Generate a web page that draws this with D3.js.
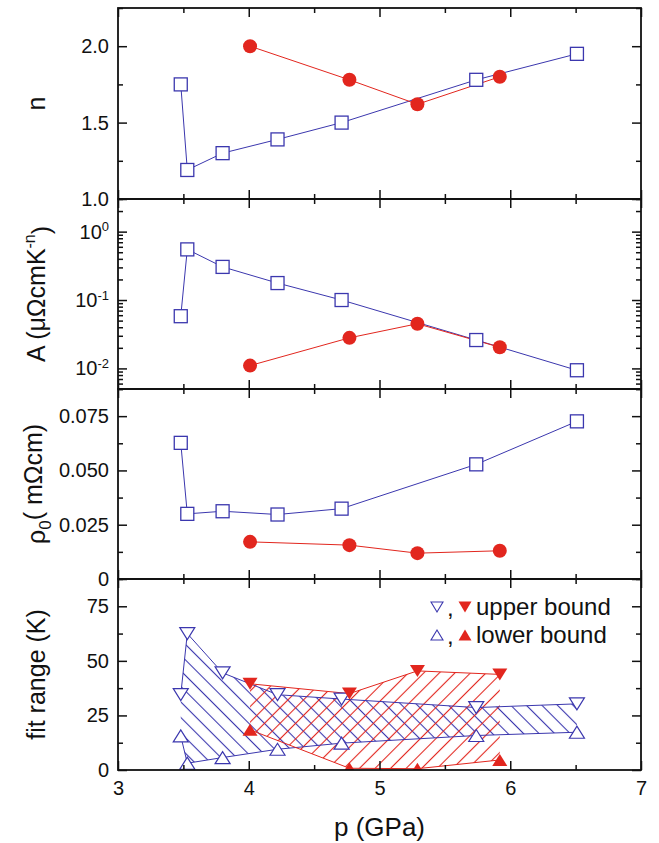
<!DOCTYPE html>
<html><head><meta charset="utf-8">
<script src="https://cdn.jsdelivr.net/npm/d3@7"></script>
<style>
body{margin:0;background:#fff}
svg{display:block}
text{font-family:"Liberation Sans",Arial,Helvetica,sans-serif;fill:#111}
</style>
</head><body>
<svg id="c" width="659" height="843"></svg>
<script>
// ---- data ----
const pBlue = [3.48, 3.53, 3.80, 4.22, 4.71, 5.74, 6.51];
const pRed  = [4.01, 4.77, 5.29, 5.92];
const nBlue = [1.75, 1.19, 1.30, 1.39, 1.50, 1.78, 1.95];
const nRed  = [2.00, 1.78, 1.62, 1.80];
const aBlue = [0.058, 0.55, 0.305, 0.177, 0.100, 0.026, 0.0094];
const aRed  = [0.011, 0.028, 0.045, 0.0204];
const rhoBlue = [0.0627, 0.0300, 0.0312, 0.0297, 0.0324, 0.0528, 0.0726];
const rhoRed  = [0.0171, 0.0156, 0.0119, 0.0130];
const upperBlue = [34.5, 62.5, 44.5, 34.5, 32.5, 28.6, 30.3];
const lowerBlue = [15.6, 3.1, 5.7, 9.5, 12.3, 15.8, 17.3];
const upperRed  = [39.5, 35.0, 45.4, 43.8];
const lowerRed  = [18.4, 0.8, 0.6, 4.6];

const xTicks = [3, 4, 5, 6, 7];
const xMinor = [3.5, 4.5, 5.5, 6.5];
const nTicks = [1.0, 1.5, 2.0];
const nMinor = [1.25, 1.75, 2.25];
const aTicks = [1, 0.1, 0.01];
const aMinor = [0.005,0.006,0.007,0.008,0.009,0.02,0.03,0.04,0.05,0.06,0.07,0.08,0.09,0.2,0.3,0.4,0.5,0.6,0.7,0.8,0.9,2,3];
const rhoTicks = [0, 0.025, 0.05, 0.075];
const rhoMinor = [0.0125, 0.0375, 0.0625, 0.0875];
const fitTicks = [0, 25, 50, 75];
const fitMinor = [12.5, 37.5, 62.5, 87.5];
const legendLabels = ["upper bound", "lower bound"];

// ---- layout ----
const svg = d3.select("#c");
const L = 118, R = 641;
const BLUE = "#3b37ae", RED = "#e2261e";
const MAJ = 9, MIN = 5;
const x = d3.scaleLinear().domain([3, 7]).range([L, R]);

const defs = svg.append("defs");
function hatch(id, angle, color) {
  const pt = defs.append("pattern").attr("id", id).attr("patternUnits", "userSpaceOnUse")
    .attr("width", 11).attr("height", 11).attr("patternTransform", `rotate(${angle})`);
  pt.append("line").attr("x1", 5.5).attr("x2", 5.5).attr("y1", -1).attr("y2", 12)
    .attr("stroke", color).attr("stroke-width", 1.1);
}
hatch("hb", -45, BLUE);
hatch("hr", 45, RED);

const panels = [
  {top: 8,   bottom: 199, y: d3.scaleLinear().domain([1, 2.25]),    major: nTicks,  minor: nMinor,  fmt: d3.format(".1f")},
  {top: 199, bottom: 389, y: d3.scaleLog().domain([0.005, 3]),      major: aTicks,  minor: aMinor,  fmt: null},
  {top: 389, bottom: 579, y: d3.scaleLinear().domain([0, 0.0875]),  major: rhoTicks,minor: rhoMinor,fmt: d => d === 0 ? "0" : d3.format(".3f")(d)},
  {top: 579, bottom: 770, y: d3.scaleLinear().domain([0, 87.5]),    major: fitTicks,minor: fitMinor,fmt: d3.format("d")}
];
panels.forEach((p, i) => {
  p.y.range([p.bottom, p.top]);
  defs.append("clipPath").attr("id", "clip" + i).append("rect")
    .attr("x", L).attr("y", p.top).attr("width", R - L).attr("height", p.bottom - p.top);
});

function squares(g, xs, ys, y) {
  g.selectAll(null).data(xs).enter().append("rect")
    .attr("x", d => x(d) - 6.5).attr("y", (d, i) => y(ys[i]) - 6.5)
    .attr("width", 13).attr("height", 13)
    .attr("fill", "#fff").attr("stroke", BLUE).attr("stroke-width", 1.3);
}
function circles(g, xs, ys, y) {
  g.selectAll(null).data(xs).enter().append("circle")
    .attr("cx", d => x(d)).attr("cy", (d, i) => y(ys[i])).attr("r", 7)
    .attr("fill", RED);
}
function tri(cx, cy, down, w, h) {
  const a = w / 2, b = h / 2;
  return down ? `M${cx-a},${cy-b}L${cx+a},${cy-b}L${cx},${cy+b}Z`
              : `M${cx-a},${cy+b}L${cx+a},${cy+b}L${cx},${cy-b}Z`;
}
function triangles(g, xs, ys, y, down, filled) {
  g.selectAll(null).data(xs).enter().append("path")
    .attr("d", (d, i) => tri(x(d), y(ys[i]), down, 15, 12))
    .attr("fill", filled ? RED : "#fff")
    .attr("stroke", filled ? "none" : BLUE).attr("stroke-width", 1.2);
}
function series(g, xs, ys, y, color) {
  g.append("path").datum(xs.map((d, i) => [d, ys[i]]))
    .attr("d", d3.line().x(d => x(d[0])).y(d => y(d[1])))
    .attr("fill", "none").attr("stroke", color).attr("stroke-width", 1);
}

// ---- panels 1-3: line + markers ----
const seriesData = [[nBlue, nRed], [aBlue, aRed], [rhoBlue, rhoRed]];
seriesData.forEach((s, i) => {
  const p = panels[i];
  const g = svg.append("g").attr("clip-path", `url(#clip${i})`);
  series(g, pBlue, s[0], p.y, BLUE);
  series(g, pRed, s[1], p.y, RED);
  squares(g, pBlue, s[0], p.y);
  circles(g, pRed, s[1], p.y);
});

// ---- panel 4: hatched fit ranges ----
{
  const p = panels[3];
  const g = svg.append("g").attr("clip-path", "url(#clip3)");
  const poly = (xs, up, lo) => xs.map((d, i) => [x(d), p.y(up[i])])
      .concat(xs.map((d, i) => [x(d), p.y(lo[i])]).reverse());
  const area = d => "M" + d.map(q => q.join(",")).join("L") + "Z";
  g.append("path").attr("d", area(poly(pBlue, upperBlue, lowerBlue))).attr("fill", "url(#hb)");
  g.append("path").attr("d", area(poly(pRed, upperRed, lowerRed))).attr("fill", "url(#hr)");
  series(g, pBlue, upperBlue, p.y, BLUE);
  series(g, pBlue, lowerBlue, p.y, BLUE);
  series(g, pRed, upperRed, p.y, RED);
  series(g, pRed, lowerRed, p.y, RED);
  triangles(g, pBlue, upperBlue, p.y, true, false);
  triangles(g, pBlue, lowerBlue, p.y, false, false);
  triangles(g, pRed, upperRed, p.y, true, true);
  triangles(g, pRed, lowerRed, p.y, false, true);
}

// ---- axes ----
function styleAxis(sel) {
  sel.select(".domain").remove();
  sel.selectAll(".tick line").attr("stroke", "#111").attr("stroke-width", 1.5);
  sel.selectAll(".tick text").attr("font-size", 20).attr("fill", "#111");
}
panels.forEach((p, i) => {
  svg.append("g").attr("transform", `translate(0,${p.bottom})`)
    .call(d3.axisBottom(x).tickValues(xTicks).tickSize(-MAJ).tickPadding(11)
      .tickFormat(i === 3 ? d3.format("d") : () => "")).call(styleAxis);
  svg.append("g").attr("transform", `translate(0,${p.bottom})`)
    .call(d3.axisBottom(x).tickValues(xMinor).tickSize(-MIN).tickFormat(() => "")).call(styleAxis);
  svg.append("g").attr("transform", `translate(0,${p.top})`)
    .call(d3.axisTop(x).tickValues(xTicks).tickSize(-MAJ).tickFormat(() => "")).call(styleAxis);
  svg.append("g").attr("transform", `translate(0,${p.top})`)
    .call(d3.axisTop(x).tickValues(xMinor).tickSize(-MIN).tickFormat(() => "")).call(styleAxis);
  const gl = svg.append("g").attr("transform", `translate(${L},0)`)
    .call(d3.axisLeft(p.y).tickValues(p.major).tickSize(-MAJ).tickPadding(9)
      .tickFormat(p.fmt ? p.fmt : () => "")).call(styleAxis);
  if (!p.fmt) {
    gl.selectAll(".tick text").each(function(d) {
      const t = d3.select(this);
      t.append("tspan").text("10");
      t.append("tspan").attr("dy", "-0.55em").attr("font-size", 13).text(String(Math.round(Math.log10(d))));
    });
  }
  svg.append("g").attr("transform", `translate(${L},0)`)
    .call(d3.axisLeft(p.y).tickValues(p.minor).tickSize(-MIN).tickFormat(() => "")).call(styleAxis);
  svg.append("g").attr("transform", `translate(${R},0)`)
    .call(d3.axisRight(p.y).tickValues(p.major).tickSize(-MAJ).tickFormat(() => "")).call(styleAxis);
  svg.append("g").attr("transform", `translate(${R},0)`)
    .call(d3.axisRight(p.y).tickValues(p.minor).tickSize(-MIN).tickFormat(() => "")).call(styleAxis);
  svg.append("rect").attr("x", L).attr("y", p.top).attr("width", R - L).attr("height", p.bottom - p.top)
    .attr("fill", "none").attr("stroke", "#111").attr("stroke-width", 1.8);
});

// ---- axis titles ----
function ytitle(cy) {
  return svg.append("text").attr("transform", `translate(45,${cy}) rotate(-90)`)
    .attr("text-anchor", "middle").attr("font-size", 25);
}
ytitle((panels[0].top + panels[0].bottom) / 2).text("n");
{
  const t = ytitle((panels[1].top + panels[1].bottom) / 2);
  t.append("tspan").text("A (\u03bc\u03a9cmK");
  t.append("tspan").attr("dy", "-0.6em").attr("font-size", 16).text("-n");
  t.append("tspan").attr("dy", "0.6em").text(")");
}
{
  const t = ytitle((panels[2].top + panels[2].bottom) / 2);
  t.append("tspan").text("\u03c1");
  t.append("tspan").attr("dy", "0.35em").attr("font-size", 17).text("0");
  t.append("tspan").attr("dy", "-0.35em").text("( m\u03a9cm)");
}
ytitle((panels[3].top + panels[3].bottom) / 2).text("fit range (K)");
svg.append("text").attr("x", (L + R) / 2).attr("y", 836).attr("text-anchor", "middle")
  .attr("font-size", 26).text("p (GPa)");

// ---- legend ----
const legY = [607, 635];
legendLabels.forEach((lab, i) => {
  const down = i === 0;
  const cy = legY[i];
  svg.append("path").attr("d", tri(437, cy, down, 12, 10)).attr("fill", "#fff").attr("stroke", BLUE).attr("stroke-width", 1.1);
  svg.append("text").attr("x", 447).attr("y", cy + 9).attr("font-size", 24).text(",");
  svg.append("path").attr("d", tri(465, cy, down, 13, 11)).attr("fill", RED);
  svg.append("text").attr("x", 476).attr("y", cy + 8).attr("font-size", 24).text(lab);
});
</script>
</body></html>
